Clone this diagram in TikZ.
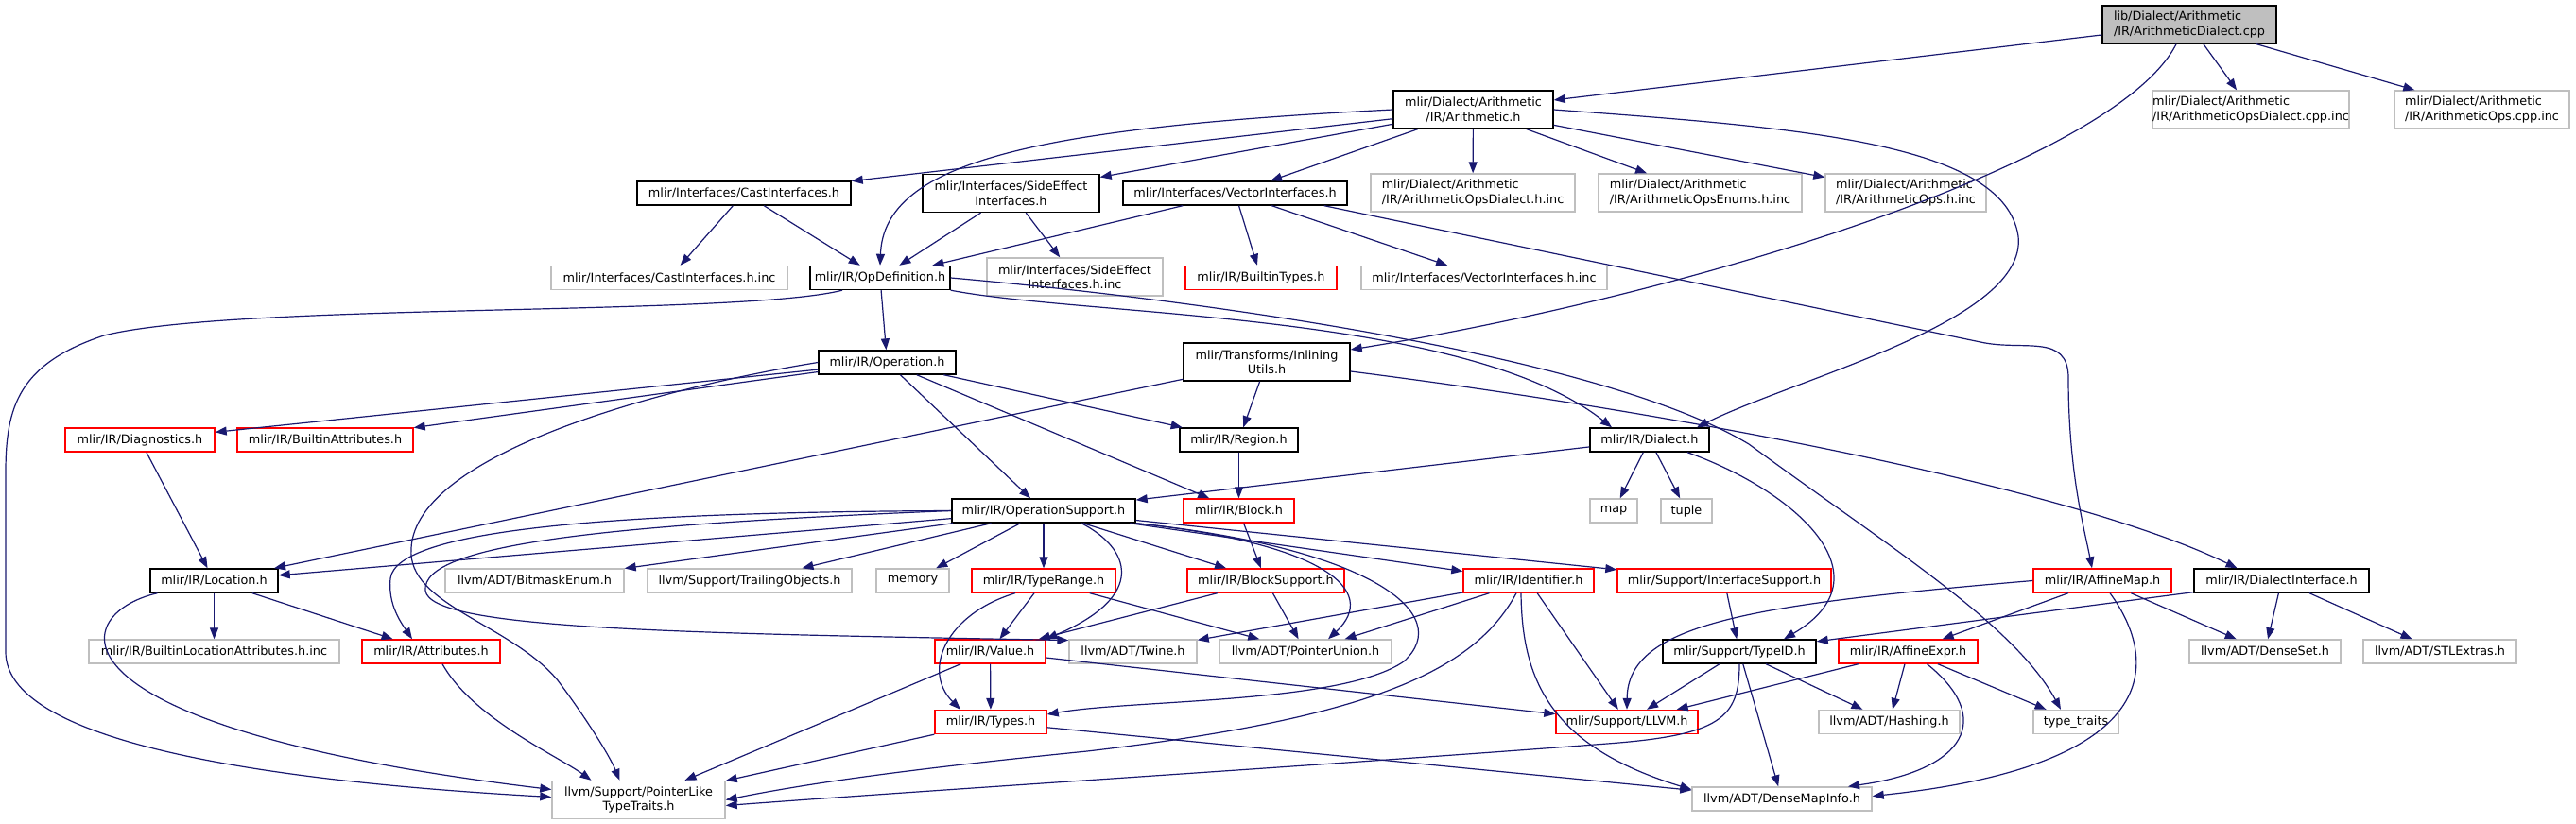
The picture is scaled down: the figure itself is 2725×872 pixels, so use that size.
\documentclass[tikz,border=0pt]{standalone}
\usepackage{fontspec}
\setmainfont{DejaVu Sans}
\usetikzlibrary{arrows.meta}
\definecolor{edgeblue}{HTML}{191970}
\definecolor{extgrey}{HTML}{BFBFBF}

\begin{document}
\begin{tikzpicture}[x=1pt, y=-1pt,
    filebox/.style={draw, line width=1.4pt, inner sep=0pt, minimum height=25pt,
        font=\fontsize{12.8}{15.5}\selectfont, align=center},
    tall/.style={minimum height=40pt},
    docfile/.style={filebox, draw=black},
    extfile/.style={filebox, draw=extgrey},
    cutfile/.style={filebox, draw=red},
    inc/.style={draw=edgeblue, line width=1.2pt, -{Triangle[length=12pt,width=9pt]}}]
    \path[fill=white] (0,0) rectangle (2725,872);
    \useasboundingbox (0,0) rectangle (2725,872);

    % Arquivo raiz
    \node[docfile, tall, fill=extgrey, align=left, minimum width=184pt] (root) at (2316,26) {lib/Dialect/Arithmetic\\/IR/ArithmeticDialect.cpp};

    % Nivel 1
    \node[docfile, tall, minimum width=169pt] (arith) at (1558.5,116) {mlir/Dialect/Arithmetic\\/IR/Arithmetic.h};
    \node[extfile, tall, align=left, minimum width=208pt] (opsdialectcpp) at (2381,116) {mlir/Dialect/Arithmetic\\/IR/ArithmeticOpsDialect.cpp.inc};
    \node[extfile, tall, align=left, minimum width=185pt] (opscpp) at (2625.5,116) {mlir/Dialect/Arithmetic\\/IR/ArithmeticOps.cpp.inc};

    % Nivel 2
    \node[docfile, minimum width=226pt] (castif) at (787,204.5) {mlir/Interfaces/CastInterfaces.h};
    \node[docfile, tall, minimum width=187pt] (sideeff) at (1069.5,204.5) {mlir/Interfaces/SideEffect\\Interfaces.h};
    \node[docfile, minimum width=237pt] (vecif) at (1306.5,204.5) {mlir/Interfaces/VectorInterfaces.h};
    \node[extfile, tall, align=left, minimum width=216pt] (opsdialecthinc) at (1558,204) {mlir/Dialect/Arithmetic\\/IR/ArithmeticOpsDialect.h.inc};
    \node[extfile, tall, align=left, minimum width=215pt] (opsenums) at (1798.5,204) {mlir/Dialect/Arithmetic\\/IR/ArithmeticOpsEnums.h.inc};
    \node[extfile, tall, align=left, minimum width=170pt] (opshinc) at (2016,204) {mlir/Dialect/Arithmetic\\/IR/ArithmeticOps.h.inc};

    % Nivel 3
    \node[extfile, minimum width=250pt] (castinc) at (708,294) {mlir/Interfaces/CastInterfaces.h.inc};
    \node[docfile, minimum width=148pt] (opdef) at (931,294) {mlir/IR/OpDefinition.h};
    \node[extfile, tall, minimum width=186pt] (sideinc) at (1137,293) {mlir/Interfaces/SideEffect\\Interfaces.h.inc};
    \node[cutfile, minimum width=160pt] (builtintypes) at (1334,294) {mlir/IR/BuiltinTypes.h};
    \node[extfile, minimum width=260pt] (vecinc) at (1570,294) {mlir/Interfaces/VectorInterfaces.h.inc};

    % Nivel 4
    \node[docfile, minimum width=145pt] (operation) at (938.5,383.5) {mlir/IR/Operation.h};
    \node[docfile, tall, minimum width=176pt] (inlining) at (1340,383) {mlir/Transforms/Inlining\\Utils.h};

    % Nivel 5
    \node[cutfile, minimum width=158pt] (diagnostics) at (148,465.5) {mlir/IR/Diagnostics.h};
    \node[cutfile, minimum width=186pt] (builtinattrs) at (344,465.5) {mlir/IR/BuiltinAttributes.h};
    \node[docfile, minimum width=125pt] (region) at (1310.5,465.5) {mlir/IR/Region.h};
    \node[docfile, minimum width=126pt] (dialect) at (1745,465.5) {mlir/IR/Dialect.h};

    % Nivel 6
    \node[docfile, minimum width=194pt] (opsupport) at (1104,540.5) {mlir/IR/OperationSupport.h};
    \node[cutfile, minimum width=117pt] (block) at (1310.5,540.5) {mlir/IR/Block.h};
    \node[extfile, minimum width=50pt] (map) at (1707,540.5) {map};
    \node[extfile, minimum width=54pt] (tuple) at (1784,540.5) {tuple};

    % Nivel 7
    \node[docfile, minimum width=135pt] (location) at (226.5,614.5) {mlir/IR/Location.h};
    \node[extfile, minimum width=189pt] (bitmask) at (565.5,614.5) {llvm/ADT/BitmaskEnum.h};
    \node[extfile, minimum width=216pt] (trailing) at (793,614.5) {llvm/Support/TrailingObjects.h};
    \node[extfile, minimum width=77pt] (memory) at (965.5,614.5) {memory};
    \node[cutfile, minimum width=152pt] (typerange) at (1104,614.5) {mlir/IR/TypeRange.h};
    \node[cutfile, minimum width=166pt] (blocksupport) at (1339,614.5) {mlir/IR/BlockSupport.h};
    \node[cutfile, minimum width=138pt] (identifier) at (1617,614.5) {mlir/IR/Identifier.h};
    \node[cutfile, minimum width=226pt] (ifsupport) at (1824,614.5) {mlir/Support/InterfaceSupport.h};
    \node[cutfile, minimum width=146pt] (affinemap) at (2224,614.5) {mlir/IR/AffineMap.h};
    \node[docfile, minimum width=185pt] (dialectif) at (2413.5,614.5) {mlir/IR/DialectInterface.h};

    % Nivel 8
    \node[extfile, minimum width=265pt] (builtinloc) at (226.5,689.5) {mlir/IR/BuiltinLocationAttributes.h.inc};
    \node[cutfile, minimum width=146pt] (attributes) at (456,689.5) {mlir/IR/Attributes.h};
    \node[cutfile, minimum width=117pt] (value) at (1047.5,689.5) {mlir/IR/Value.h};
    \node[extfile, minimum width=135pt] (twine) at (1198.5,689.5) {llvm/ADT/Twine.h};
    \node[extfile, minimum width=182pt] (ptrunion) at (1381,689.5) {llvm/ADT/PointerUnion.h};
    \node[docfile, minimum width=162pt] (typeid) at (1840,689.5) {mlir/Support/TypeID.h};
    \node[cutfile, minimum width=147pt] (affineexpr) at (2018.5,689.5) {mlir/IR/AffineExpr.h};
    \node[extfile, minimum width=160pt] (denseset) at (2396,689.5) {llvm/ADT/DenseSet.h};
    \node[extfile, minimum width=162pt] (stlextras) at (2581,689.5) {llvm/ADT/STLExtras.h};

    % Nivel 9
    \node[cutfile, minimum width=118pt] (types) at (1048,764) {mlir/IR/Types.h};
    \node[cutfile, minimum width=150pt] (llvmh) at (1721,764) {mlir/Support/LLVM.h};
    \node[extfile, minimum width=149pt] (hashing) at (1998.5,764) {llvm/ADT/Hashing.h};
    \node[extfile, minimum width=90pt] (typetraits) at (2196,764) {type\_traits};

    % Nivel 10
    \node[extfile, tall, minimum width=183pt] (ptrlike) at (675.5,846.5) {llvm/Support/PointerLike\\TypeTraits.h};
    \node[extfile, minimum width=190pt] (densemapinfo) at (1885,845.5) {llvm/ADT/DenseMapInfo.h};

    % root
    \draw[inc] (root) -- (arith);
    \draw[inc] (root) -- (opsdialectcpp);
    \draw[inc] (root) -- (opscpp);
    \draw[inc] ([xshift=-14pt]root.south) .. controls (2240,170) and (1800,310) .. ([yshift=13pt]inlining.east);

    % Arithmetic.h
    \draw[inc] (arith) -- (castif);
    \draw[inc] (arith.west) .. controls (1100,135) and (935,170) .. (opdef.north);
    \draw[inc] (arith) -- (sideeff);
    \draw[inc] (arith) -- (vecif);
    \draw[inc] (arith) -- (opsdialecthinc);
    \draw[inc] (arith) -- (opsenums);
    \draw[inc] (arith) -- (opshinc);
    \draw[inc] (arith.east) .. controls (1900,135) and (2120,150) .. (2135,250)
        .. controls (2145,340) and (1900,400) .. ([xshift=50pt]dialect.north);

    % Interfaces
    \draw[inc] (castif) -- (castinc);
    \draw[inc] (castif) -- (opdef);
    \draw[inc] (sideeff) -- (opdef);
    \draw[inc] (sideeff) -- (sideinc);
    \draw[inc] (vecif) -- (opdef);
    \draw[inc] (vecif) -- (builtintypes);
    \draw[inc] (vecif) -- (vecinc);
    \draw[inc] ([xshift=-25pt]vecif.south east) -- (2095,362) .. controls (2140,372) and (2188,352) .. (2188,400)
        .. controls (2188,500) and (2205,560) .. ([xshift=-11pt]affinemap.north);

    % OpDefinition.h
    \draw[inc] (opdef) -- (operation);
    \draw[inc] ([xshift=-40pt]opdef.south) .. controls (780,335) and (250,320) .. (110,355)
        .. controls (20,385) and (6,430) .. (6,500) -- (6,690)
        .. controls (6,780) and (250,825) .. ([yshift=3pt]ptrlike.west);
    \draw[inc] (opdef.south east) .. controls (1150,335) and (1550,330) .. ([xshift=-40pt]dialect.north);
    \draw[inc] (opdef.east) .. controls (1300,320) and (1700,380) .. (1850,470)
        .. controls (2000,580) and (2130,660) .. ([xshift=-16pt]typetraits.north);

    % Operation.h
    \draw[inc] (operation) -- (diagnostics);
    \draw[inc] (operation) -- (builtinattrs);
    \draw[inc] (operation.west) .. controls (700,410) and (440,480) .. (435,580)
        .. controls (430,640) and (540,660) .. (590,720)
        .. controls (620,760) and (645,800) .. ([xshift=-20pt]ptrlike.north);
    \draw[inc] (operation) -- (region);
    \draw[inc] (operation) -- (opsupport);
    \draw[inc] (operation) -- (block);

    % InliningUtils.h
    \draw[inc] (inlining) -- (location);
    \draw[inc] (inlining) -- (region);
    \draw[inc] ([yshift=-10pt]inlining.east) .. controls (1800,440) and (2200,520) .. ([xshift=-47pt]dialectif.north);

    % Diagnostics, Region, Dialect
    \draw[inc] (diagnostics) -- (location);
    \draw[inc] (region) -- (block);
    \draw[inc] (dialect) -- (opsupport);
    \draw[inc] (dialect) -- (map);
    \draw[inc] (dialect) -- (tuple);
    \draw[inc] ([xshift=40pt]dialect.south) .. controls (1900,520) and (2000,610) .. ([xshift=47pt]typeid.north);

    % OperationSupport.h
    \draw[inc] (opsupport) -- (location);
    \draw[inc] (opsupport) -- (bitmask);
    \draw[inc] (opsupport) -- (trailing);
    \draw[inc] (opsupport) -- (memory);
    \draw[inc] (opsupport) -- (typerange);
    \draw[inc] (opsupport) -- (blocksupport);
    \draw[inc] (opsupport) -- (identifier);
    \draw[inc] (opsupport) -- (ifsupport);
    \draw[inc] ([xshift=40pt]opsupport.south) .. controls (1195,580) and (1215,630) .. (value.north east);
    \draw[inc] (opsupport.south east) .. controls (1400,575) and (1460,625) .. ([xshift=24pt]ptrunion.north);
    \draw[inc] (opsupport.south east) .. controls (1450,580) and (1540,650) .. (1485,700)
        .. controls (1420,745) and (1200,740) .. ([yshift=8pt]types.east);
    \draw[inc] (opsupport.west) .. controls (650,542) and (420,560) .. (413,612)
        .. controls (410,640) and (425,660) .. ([xshift=-20pt]attributes.north);
    \draw[inc] (opsupport.west) .. controls (650,555) and (445,575) .. (450,625)
        .. controls (455,665) and (700,670) .. ([yshift=12pt]twine.west);

    % Block, TypeRange, BlockSupport
    \draw[inc] (block) -- (blocksupport);
    \draw[inc] (typerange) -- (value);
    \draw[inc] ([xshift=-30pt]typerange.south) .. controls (1000,650) and (975,710) .. ([xshift=-32pt]types.north);
    \draw[inc] (typerange) -- (ptrunion);
    \draw[inc] (blocksupport) -- (value);
    \draw[inc] (blocksupport) -- (ptrunion);

    % Identifier.h
    \draw[inc] (identifier) -- (twine);
    \draw[inc] (identifier) -- (ptrunion);
    \draw[inc] (identifier) -- (llvmh);
    \draw[inc] ([xshift=-8pt]identifier.south) .. controls (1610,720) and (1640,790) .. ([yshift=10pt]densemapinfo.west);
    \draw[inc] ([xshift=-13pt]identifier.south) .. controls (1560,710) and (1450,760) .. (1150,795)
        .. controls (950,815) and (850,830) .. (ptrlike.east);

    % InterfaceSupport, AffineMap, DialectInterface
    \draw[inc] (ifsupport) -- (typeid);
    \draw[inc] (affinemap.west) .. controls (1850,640) and (1722,660) .. (llvmh.north);
    \draw[inc] (affinemap) -- (affineexpr);
    \draw[inc] (affinemap) -- (denseset);
    \draw[inc] ([xshift=8pt]affinemap.south) .. controls (2285,700) and (2290,810) .. ([yshift=3pt]densemapinfo.east);
    \draw[inc] (dialectif) -- (typeid);
    \draw[inc] (dialectif) -- (denseset);
    \draw[inc] (dialectif) -- (stlextras);

    % Location, Attributes
    \draw[inc] (location) -- (builtinloc);
    \draw[inc] (location) -- (attributes);
    \draw[inc] ([xshift=-60pt]location.south) .. controls (70,650) and (40,770) .. ([yshift=11pt]ptrlike.west);
    \draw[inc] ([xshift=12pt]attributes.south) .. controls (500,760) and (590,800) .. ([xshift=-50pt]ptrlike.north);

    % Value, Types
    \draw[inc] (value) -- (types);
    \draw[inc] (value) -- (llvmh);
    \draw[inc] (value) -- (ptrlike);
    \draw[inc] (types) -- (ptrlike);
    \draw[inc] (types) -- (densemapinfo);

    % TypeID.h
    \draw[inc] (typeid) -- (llvmh);
    \draw[inc] (typeid) -- (hashing);
    \draw[inc] (typeid) -- (densemapinfo);
    \draw[inc] (typeid.south) .. controls (1840,760) and (1820,778) .. (1700,787)
        .. controls (1400,810) and (1000,835) .. ([yshift=-6pt]ptrlike.east);

    % AffineExpr.h
    \draw[inc] (affineexpr) -- (llvmh);
    \draw[inc] (affineexpr) -- (hashing);
    \draw[inc] (affineexpr) -- (typetraits);
    \draw[inc] ([xshift=20pt]affineexpr.south) .. controls (2110,760) and (2080,815) .. ([xshift=70pt]densemapinfo.north);
\end{tikzpicture}
\end{document}
